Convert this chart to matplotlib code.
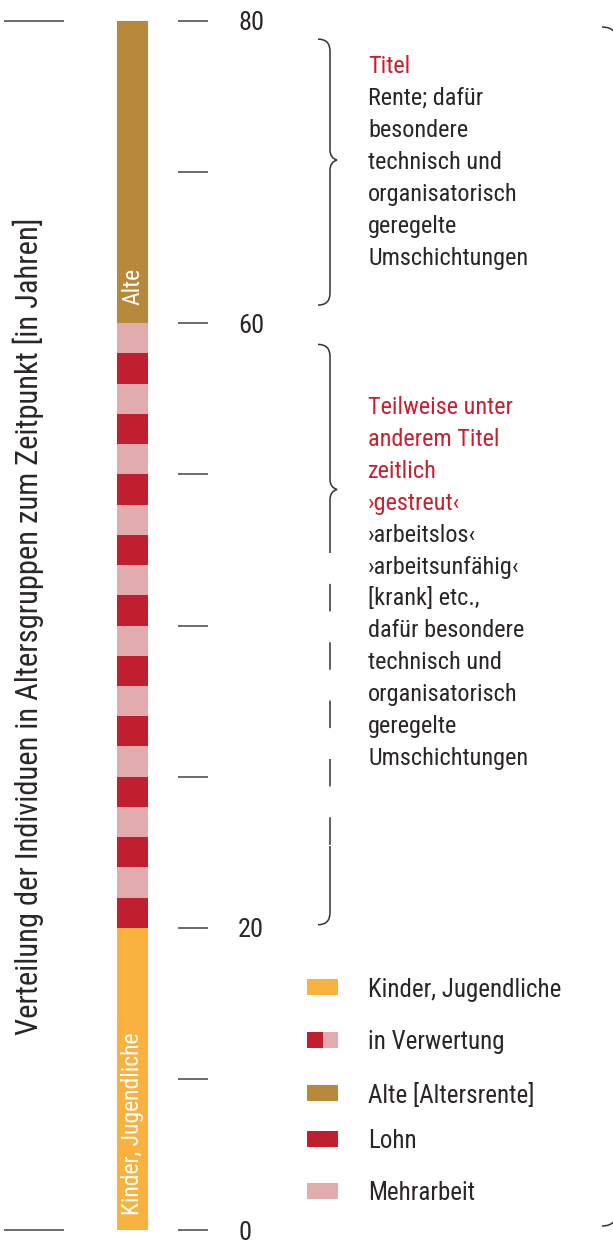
import matplotlib.pyplot as plt
from matplotlib.patches import Rectangle, PathPatch
from matplotlib.path import Path

# Farben
ORANGE = '#F9B13F'
ROT = '#C01F30'
ROSA = '#E2ACAE'
BRAUN = '#B8893A'
TEXT = '#2A2526'
TEXTROT = '#C8202F'
LINIE = '#333333'

# Daten: Segmente der Säule (unten -> oben), in Jahren
segment_namen = ['Kinder, Jugendliche',
                 'Lohn', 'Mehrarbeit', 'Lohn', 'Mehrarbeit', 'Lohn', 'Mehrarbeit',
                 'Lohn', 'Mehrarbeit', 'Lohn', 'Mehrarbeit', 'Lohn', 'Mehrarbeit',
                 'Lohn', 'Mehrarbeit', 'Lohn', 'Mehrarbeit', 'Lohn', 'Mehrarbeit',
                 'Lohn', 'Mehrarbeit',
                 'Alte']
segment_jahre = [20,
                 2, 2, 2, 2, 2, 2, 2, 2, 2, 2,
                 2, 2, 2, 2, 2, 2, 2, 2, 2, 2,
                 20]
farben = {'Kinder, Jugendliche': ORANGE, 'Lohn': ROT, 'Mehrarbeit': ROSA, 'Alte': BRAUN}

ticks = [0, 10, 20, 30, 40, 50, 60, 70, 80]
tick_labels = ['0', '', '20', '', '', '', '60', '', '80']

legende_namen = ['Kinder, Jugendliche', 'in Verwertung', 'Alte [Altersrente]', 'Lohn', 'Mehrarbeit']

text_oben_rot = ['Titel']
text_oben = ['Rente; dafür', 'besondere', 'technisch und', 'organisatorisch',
             'geregelte', 'Umschichtungen']
text_mitte_rot = ['Teilweise unter', 'anderem Titel', 'zeitlich', '›gestreut‹']
text_mitte = ['›arbeitslos‹', '›arbeitsunfähig‹', '[krank] etc.,', 'dafür besondere',
              'technisch und', 'organisatorisch', 'geregelte', 'Umschichtungen']

# Klammern: (oben, Spitze, unten) in Jahren
klammer_alte = (78.8, 70.8, 61.2)
klammer_arbeit = (58.6, 49.0, 20.2)

FONT = ['Liberation Sans Narrow', 'Roboto Condensed', 'DejaVu Sans']
plt.rcParams['font.family'] = FONT

W, H = 613, 1243
fig = plt.figure(figsize=(W / 100, H / 100), dpi=100)
ax = fig.add_axes([0, 0, 1, 1])
ax.axis('off')

# Pixel -> Jahre (0 bei y=1230, 80 bei y=21)
PX0, PX80 = 1230, 21
skala = 80 / (PX0 - PX80)


def jahr(py):
    return (PX0 - py) * skala


ax.set_xlim(0, W)
ax.set_ylim(jahr(H), jahr(0))

# Säule
unten = 0
for name, h in zip(segment_namen, segment_jahre):
    ax.bar(132.5, h, width=31, bottom=unten, color=farben[name], linewidth=0)
    unten += h

ax.text(133, 61.2, 'Alte', rotation=90, ha='center', va='bottom',
        color='white', fontsize=17)
ax.text(133, 1.0, 'Kinder, Jugendliche', rotation=90, ha='center', va='bottom',
        color='white', fontsize=17)

# Skalenstriche
ax.hlines(ticks, 178, 208, color='#444444', linewidth=1.1)
for t, lab in zip(ticks, tick_labels):
    if lab:
        ax.text(238, t, lab, ha='left', va='center_baseline', fontsize=19, color=TEXT)
ax.hlines([0, 80], 4, 64, color='#444444', linewidth=1.1)

ax.text(28, jahr(626), 'Verteilung der Individuen in Altersgruppen zum Zeitpunkt [in Jahren]',
        rotation=90, ha='center', va='center', fontsize=22, color=TEXT)


def klammer(xv, oben, spitze, unten_, r=12, spitze_w=7, lw=1.1):
    r_y = r * skala
    verts = [(xv - r, oben), (xv, oben), (xv, oben - r_y),
             (xv, spitze + 10 * skala), (xv, spitze + 2 * skala), (xv + spitze_w, spitze),
             (xv, spitze - 2 * skala), (xv, spitze - 10 * skala),
             (xv, unten_ + r_y), (xv, unten_), (xv - r, unten_)]
    codes = [Path.MOVETO, Path.CURVE3, Path.CURVE3,
             Path.LINETO, Path.CURVE3, Path.CURVE3,
             Path.CURVE3, Path.CURVE3,
             Path.LINETO, Path.CURVE3, Path.CURVE3]
    ax.add_patch(PathPatch(Path(verts, codes), fill=False, edgecolor=LINIE, lw=lw))


klammer(330, *klammer_alte)

# zweite Klammer: oben und unten durchgezogen, Mitte gestrichelt
xv = 330
o, s, u = klammer_arbeit
r_y = 12 * skala
verts = [(xv - 12, o), (xv, o), (xv, o - r_y),
         (xv, s + 10 * skala), (xv, s + 2 * skala), (xv + 7, s),
         (xv, s - 2 * skala), (xv, s - 10 * skala), (xv, jahr(553))]
codes = [Path.MOVETO, Path.CURVE3, Path.CURVE3, Path.LINETO, Path.CURVE3, Path.CURVE3,
         Path.CURVE3, Path.CURVE3, Path.LINETO]
ax.add_patch(PathPatch(Path(verts, codes), fill=False, edgecolor=LINIE, lw=1.1))
ax.plot([xv, xv], [jahr(553), jahr(846)], color=LINIE, lw=1.1,
        linestyle=(18, (18, 20.2)))
verts = [(xv, jahr(846)), (xv, u + r_y), (xv, u), (xv - 12, u)]
codes = [Path.MOVETO, Path.LINETO, Path.CURVE3, Path.CURVE3]
ax.add_patch(PathPatch(Path(verts, codes), fill=False, edgecolor=LINIE, lw=1.1))

# große Klammer rechts (nur die Enden sichtbar)
xr, rr = 617, 15
for py, sgn in [(27, 1), (1226, -1)]:
    verts = [(xr - rr, jahr(py)), (xr, jahr(py)), (xr, jahr(py + sgn * rr))]
    codes = [Path.MOVETO, Path.CURVE3, Path.CURVE3]
    ax.add_patch(PathPatch(Path(verts, codes), fill=False, edgecolor=LINIE, lw=1.1))

# Texte rechts
zeilen = [(t, TEXTROT) for t in text_oben_rot] + [(t, TEXT) for t in text_oben]
for i, (t, c) in enumerate(zeilen):
    ax.text(368, jahr(73 + i * 32), t, ha='left', va='baseline', fontsize=17.5, color=c)

zeilen = [(t, TEXTROT) for t in text_mitte_rot] + [(t, TEXT) for t in text_mitte]
for i, (t, c) in enumerate(zeilen):
    ax.text(368, jahr(414 + i * 31.9), t, ha='left', va='baseline', fontsize=17.5, color=c)

# Legende
leg_y = [987, 1040, 1093, 1139, 1191]
leg_farben = [ORANGE, None, BRAUN, ROT, ROSA]
for name, py, fc in zip(legende_namen, leg_y, leg_farben):
    y0 = jahr(py + 8)
    hh = 16 * skala
    if fc is None:
        ax.add_patch(Rectangle((307, y0), 15.5, hh, facecolor=ROT, linewidth=0))
        ax.add_patch(Rectangle((322.5, y0), 15.5, hh, facecolor=ROSA, linewidth=0))
    else:
        ax.add_patch(Rectangle((307, y0), 31, hh, facecolor=fc, linewidth=0))
    ax.text(368, jahr(py), name, ha='left', va='center_baseline', fontsize=18, color=TEXT)

fig.savefig('out.png', dpi=100)
